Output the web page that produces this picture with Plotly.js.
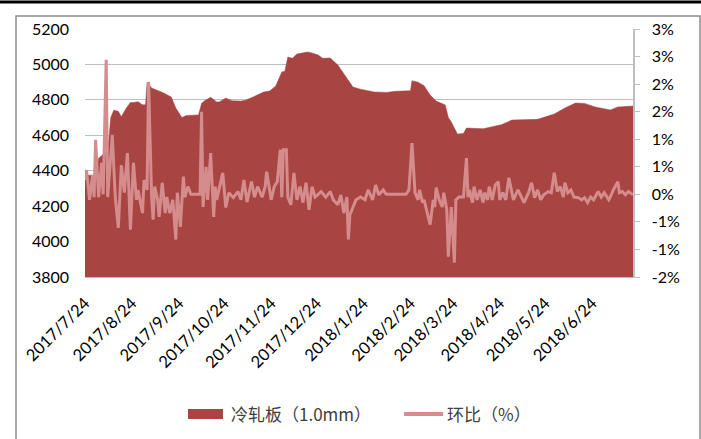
<!DOCTYPE html>
<html>
<head>
<meta charset="utf-8">
<script src="https://cdn.plot.ly/plotly-3.0.1.min.js"></script>
<style>
html,body{margin:0;padding:0;background:#fff;}
#chart{width:701px;height:439px;}
</style>
</head>
<body>
<div id="chart"></div>
<script>
var priceDates = ["2017-07-24","2017-07-31","2017-08-02","2017-08-06","2017-08-08","2017-08-10","2017-08-12","2017-08-15","2017-08-17","2017-08-20","2017-08-23","2017-08-25","2017-08-28","2017-08-31","2017-09-02","2017-09-03","2017-09-06","2017-09-10","2017-09-14","2017-09-19","2017-09-22","2017-09-26","2017-09-29","2017-10-07","2017-10-09","2017-10-11","2017-10-15","2017-10-19","2017-10-21","2017-10-25","2017-10-29","2017-11-04","2017-11-07","2017-11-12","2017-11-19","2017-11-23","2017-11-27","2017-12-01","2017-12-03","2017-12-05","2017-12-08","2017-12-11","2017-12-18","2017-12-21","2017-12-25","2017-12-28","2018-01-02","2018-01-07","2018-01-13","2018-01-17","2018-01-22","2018-01-31","2018-02-08","2018-02-14","2018-02-24","2018-02-25","2018-03-01","2018-03-05","2018-03-09","2018-03-13","2018-03-19","2018-03-21","2018-03-23","2018-03-27","2018-03-31","2018-04-02","2018-04-13","2018-04-18","2018-04-25","2018-05-02","2018-05-19","2018-05-30","2018-06-06","2018-06-13","2018-06-19","2018-06-26","2018-07-06","2018-07-11","2018-07-21"];
var priceValues = [4375,4375,4470,4500,4500,4700,4742,4735,4705,4750,4785,4785,4790,4772,4772,4900,4867,4855,4839,4816,4754,4700,4712,4715,4780,4795,4815,4788,4790,4810,4795,4793,4798,4816,4844,4850,4878,4957,4962,5042,5035,5059,5070,5065,5053,5035,5036,4997,4923,4873,4860,4845,4842,4848,4852,4908,4900,4880,4827,4793,4771,4700,4675,4607,4610,4641,4637,4648,4660,4686,4690,4720,4754,4782,4780,4760,4743,4760,4765];

var ratioDates = ["2017-07-24","2017-07-25","2017-07-27","2017-07-29","2017-07-30","2017-07-31","2017-08-02","2017-08-04","2017-08-05","2017-08-07","2017-08-08","2017-08-11","2017-08-13","2017-08-15","2017-08-17","2017-08-19","2017-08-21","2017-08-22","2017-08-23","2017-08-25","2017-08-27","2017-08-28","2017-08-31","2017-09-01","2017-09-03","2017-09-04","2017-09-06","2017-09-07","2017-09-08","2017-09-10","2017-09-11","2017-09-13","2017-09-15","2017-09-16","2017-09-18","2017-09-20","2017-09-22","2017-09-23","2017-09-25","2017-09-27","2017-09-28","2017-09-30","2017-10-02","2017-10-08","2017-10-09","2017-10-10","2017-10-12","2017-10-13","2017-10-15","2017-10-17","2017-10-18","2017-10-19","2017-10-23","2017-10-25","2017-10-27","2017-10-30","2017-11-02","2017-11-04","2017-11-06","2017-11-08","2017-11-11","2017-11-13","2017-11-15","2017-11-18","2017-11-20","2017-11-21","2017-11-24","2017-11-26","2017-11-28","2017-11-30","2017-12-01","2017-12-02","2017-12-04","2017-12-05","2017-12-07","2017-12-09","2017-12-11","2017-12-13","2017-12-15","2017-12-17","2017-12-19","2017-12-21","2017-12-23","2017-12-27","2017-12-30","2018-01-02","2018-01-04","2018-01-07","2018-01-09","2018-01-11","2018-01-13","2018-01-14","2018-01-15","2018-01-19","2018-01-22","2018-01-25","2018-01-27","2018-01-30","2018-02-01","2018-02-03","2018-02-06","2018-02-08","2018-02-21","2018-02-23","2018-02-25","2018-02-27","2018-03-01","2018-03-02","2018-03-04","2018-03-05","2018-03-07","2018-03-09","2018-03-11","2018-03-12","2018-03-13","2018-03-15","2018-03-17","2018-03-18","2018-03-20","2018-03-21","2018-03-23","2018-03-25","2018-03-26","2018-03-28","2018-03-31","2018-04-02","2018-04-03","2018-04-04","2018-04-06","2018-04-07","2018-04-09","2018-04-11","2018-04-13","2018-04-14","2018-04-16","2018-04-17","2018-04-19","2018-04-21","2018-04-23","2018-04-24","2018-04-26","2018-04-28","2018-04-30","2018-05-02","2018-05-03","2018-05-06","2018-05-08","2018-05-10","2018-05-13","2018-05-15","2018-05-17","2018-05-19","2018-05-21","2018-05-23","2018-05-26","2018-05-28","2018-05-30","2018-06-01","2018-06-03","2018-06-05","2018-06-06","2018-06-08","2018-06-10","2018-06-12","2018-06-15","2018-06-17","2018-06-19","2018-06-21","2018-06-23","2018-06-25","2018-06-28","2018-06-30","2018-07-02","2018-07-05","2018-07-06","2018-07-08","2018-07-11","2018-07-12","2018-07-14","2018-07-16","2018-07-18","2018-07-21"];
var ratioValues = [0.26,0.44,-0.10,0.35,-0.05,0.99,-0.05,0.57,0.00,2.44,-0.05,1.08,-0.05,-0.61,0.53,0.03,0.75,0.14,-0.64,0.57,-0.10,0.08,-0.34,0.26,0.08,2.04,-0.05,-0.46,0.14,-0.10,-0.41,0.21,-0.34,-0.05,-0.34,-0.10,-0.82,0.03,-0.59,0.32,-0.05,0.14,0.00,0.00,1.50,-0.23,0.50,-0.10,0.75,-0.41,0.14,-0.10,0.39,-0.24,0.03,-0.06,0.05,-0.10,0.26,-0.14,0.23,-0.05,0.14,-0.05,0.14,0.41,-0.10,0.14,0.23,0.81,-0.05,0.81,0.81,-0.05,-0.19,0.39,-0.10,0.14,-0.15,0.21,-0.28,0.14,-0.05,0.05,-0.05,0.05,-0.10,-0.19,-0.01,-0.34,-0.05,-0.82,-0.37,-0.10,-0.05,-0.10,0.08,-0.10,0.17,-0.01,0.08,0.00,0.00,0.08,0.93,0.03,-0.10,0.08,-0.15,-0.10,-0.34,-0.55,-0.10,-0.23,0.12,-0.10,-0.23,0.03,-0.28,-1.13,-0.23,-1.24,-0.10,-0.05,-0.05,0.66,-0.05,0.08,-0.15,0.14,-0.10,0.08,-0.15,0.03,-0.10,0.14,-0.10,0.17,0.23,-0.10,0.03,-0.10,0.30,0.03,-0.10,0.08,-0.05,-0.15,0.03,0.21,-0.06,0.08,-0.10,-0.01,0.05,0.03,0.39,0.05,0.14,-0.05,0.21,0.03,0.08,-0.05,-0.06,-0.10,-0.06,-0.15,-0.05,-0.10,0.05,-0.05,0.03,-0.10,-0.05,0.08,0.23,0.03,0.05,-0.01,0.05,-0.01];

var xTickVals = ["2017-07-24","2017-08-24","2017-09-24","2017-10-24","2017-11-24","2017-12-24","2018-01-24","2018-02-24","2018-03-24","2018-04-24","2018-05-24","2018-06-24"];
var xTickText = ["2017/7/24","2017/8/24","2017/9/24","2017/10/24","2017/11/24","2017/12/24","2018/1/24","2018/2/24","2018/3/24","2018/4/24","2018/5/24","2018/6/24"];
var leftTickVals = [3800,4000,4200,4400,4600,4800,5000,5200];
var rightTickVals = [-1.5,-1.0,-0.5,0,0.5,1.0,1.5,2.0,2.5,3.0];
var rightTickText = ["-2%","-1%","-1%","0%","1%","1%","2%","2%","3%","3%"];
var seriesNames = ["冷轧板（1.0mm）","环比（%）"];

var areaColor = "#A84442";
var lineColor = "#D48C8C";
var tickFont = {family: "Lato, 'Liberation Sans', sans-serif", size: 16, color: "#000"};
var xTickFont = {family: "Lato, 'Liberation Sans', sans-serif", size: 16.5, color: "#000"};

var traces = [
  {
    type: "scatter", mode: "lines", name: seriesNames[0],
    x: priceDates, y: priceValues,
    fill: "tozeroy", fillcolor: areaColor,
    line: {color: areaColor, width: 0.5},
    yaxis: "y", hoverinfo: "x+y"
  },
  {
    type: "scatter", mode: "lines", name: seriesNames[1],
    x: ratioDates, y: ratioValues,
    line: {color: lineColor, width: 3},
    yaxis: "y2", hoverinfo: "x+y"
  }
];

// plot area in px: x 85..633, y 29..277
var PL = 85, PR = 633, PT = 29, PB = 277;
function px(x){ return (x - PL) / (PR - PL); }
function py(y){ return (PB - y) / (PB - PT); }

var layout = {
  width: 701, height: 439,
  margin: {l: PL, r: 701 - PR, t: PT, b: 439 - PB, pad: 0},
  paper_bgcolor: "#fff", plot_bgcolor: "#fff",
  showlegend: false,
  xaxis: {
    type: "date",
    range: ["2017-07-24", "2018-07-21"],
    tickvals: xTickVals, ticktext: xTickText,
    tickangle: -45, tickfont: xTickFont,
    showgrid: false, zeroline: false,
    showline: true, linecolor: "#BFBFBF", linewidth: 1,
    ticks: "", ticklabelstandoff: 9
  },
  yaxis: {
    range: [3800, 5200], tickvals: leftTickVals,
    tickfont: tickFont, showgrid: true, gridcolor: "#BFBFBF", gridwidth: 1,
    zeroline: false, showline: false, ticks: "", ticklabelstandoff: 15
  },
  yaxis2: {
    overlaying: "y", side: "right",
    range: [-1.5, 3.0], tickvals: rightTickVals, ticktext: rightTickText,
    tickfont: tickFont, showgrid: false, zeroline: false,
    showline: true, linecolor: "#BFBFBF", linewidth: 1.5,
    ticks: "outside", ticklen: 5, tickcolor: "#BFBFBF", tickwidth: 1,
    ticklabelstandoff: 9
  },
  shapes: [
    {type: "rect", xref: "paper", yref: "paper",
     x0: px(16), x1: px(700), y0: py(470), y1: py(16),
     line: {color: "#8C8C8C", width: 1.5}, fillcolor: "rgba(0,0,0,0)", layer: "below"},
    {type: "line", xref: "paper", yref: "paper",
     x0: px(0), x1: px(701), y0: py(2), y1: py(2),
     line: {color: "#000", width: 3}},
    {type: "rect", xref: "paper", yref: "paper",
     x0: px(188), x1: px(223), y0: py(419), y1: py(409),
     line: {width: 0}, fillcolor: areaColor},
    {type: "line", xref: "paper", yref: "paper",
     x0: px(404), x1: px(443), y0: py(414), y1: py(414),
     line: {color: lineColor, width: 4}}
  ],
  annotations: [
    {xref: "paper", yref: "paper", x: px(229), y: py(414), xanchor: "left", yanchor: "middle",
     text: seriesNames[0], showarrow: false,
     font: {family: "'Noto Sans CJK SC', sans-serif", size: 17, color: "#404040"}},
    {xref: "paper", yref: "paper", x: px(445), y: py(414), xanchor: "left", yanchor: "middle",
     text: seriesNames[1], showarrow: false,
     font: {family: "'Noto Sans CJK SC', sans-serif", size: 17, color: "#404040"}}
  ]
};

Plotly.newPlot("chart", traces, layout, {displayModeBar: false, staticPlot: true});
</script>
</body>
</html>
